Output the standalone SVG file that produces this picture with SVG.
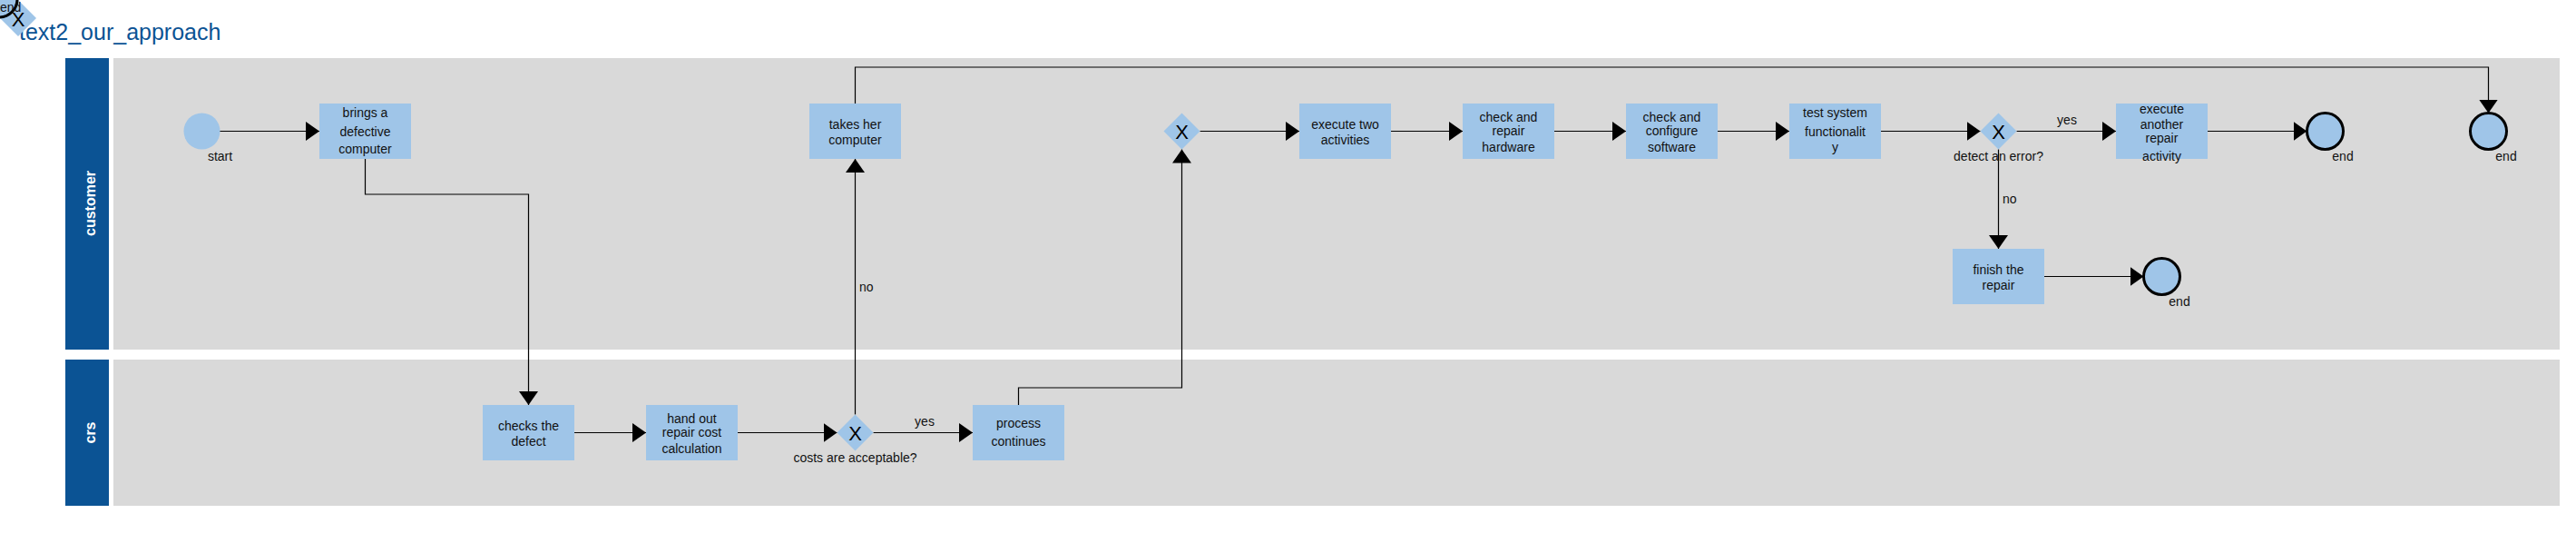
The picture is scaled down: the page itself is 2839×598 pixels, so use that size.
<svg xmlns="http://www.w3.org/2000/svg" width="2839" height="598" viewBox="0 0 2839 598">
<defs>
<style>
.lane{fill:#d9d9d9}
.hdr{fill:#0b5394}
.hdrt{fill:#ffffff;font-family:"Liberation Sans",Arial,sans-serif;font-size:16px;font-weight:bold}
.task{fill:#9fc5e8}
.t{font-family:"Liberation Sans",Arial,sans-serif;font-size:14px;fill:#111;text-anchor:middle}
.lbl{font-family:"Liberation Sans",Arial,sans-serif;font-size:14px;fill:#111}
.gw{fill:#9fc5e8}
.gx{font-family:"Liberation Sans",Arial,sans-serif;font-size:22px;fill:#000;text-anchor:middle}
.end{fill:#9fc5e8;stroke:#000;stroke-width:3}
.start{fill:#9fc5e8}
.e{fill:none;stroke:#000;stroke-width:1.2}
</style>
<marker id="arr" markerUnits="userSpaceOnUse" markerWidth="16" markerHeight="22" refX="15" refY="10.5" orient="auto">
<path d="M0,0 L15,10.5 L0,21 Z" fill="#000"/>
</marker>
</defs>
<rect width="2839" height="598" fill="#ffffff"/>
<text x="21" y="44" font-family="Liberation Sans, Arial, sans-serif" font-size="25" fill="#0b5394">text2_our_approach</text>
<g id="lane-customer">
<rect class="hdr" x="72" y="64" width="48" height="321"/>
<rect class="lane" x="125" y="64" width="2696" height="321"/>
<text class="hdrt" transform="translate(105,224) rotate(-90)" text-anchor="middle">customer</text>
</g>
<g id="lane-crs">
<rect class="hdr" x="72" y="396" width="48" height="161"/>
<rect class="lane" x="125" y="396" width="2696" height="161"/>
<text class="hdrt" transform="translate(105,476.5) rotate(-90)" text-anchor="middle">crs</text>
</g>
<g id="connectors">
<path class="e" marker-end="url(#arr)" d="M242,144.5 L352,144.5"/>
<path class="e" marker-end="url(#arr)" d="M402.5,175 L402.5,214 L582.5,214 L582.5,446"/>
<path class="e" marker-end="url(#arr)" d="M633,476.5 L712,476.5"/>
<path class="e" marker-end="url(#arr)" d="M813,476.5 L922.5,476.5"/>
<path class="e" marker-end="url(#arr)" d="M962.5,476.5 L1072,476.5"/>
<path class="e" marker-end="url(#arr)" d="M942.5,456.5 L942.5,175"/>
<path class="e" marker-end="url(#arr)" d="M942.5,114 L942.5,74 L2742.5,74 L2742.5,124.5"/>
<path class="e" marker-end="url(#arr)" d="M1122.5,446 L1122.5,427 L1302.5,427 L1302.5,164.5"/>
<path class="e" marker-end="url(#arr)" d="M1322.5,144.5 L1432,144.5"/>
<path class="e" marker-end="url(#arr)" d="M1533,144.5 L1612,144.5"/>
<path class="e" marker-end="url(#arr)" d="M1713,144.5 L1792,144.5"/>
<path class="e" marker-end="url(#arr)" d="M1893,144.5 L1972,144.5"/>
<path class="e" marker-end="url(#arr)" d="M2073,144.5 L2182.5,144.5"/>
<path class="e" marker-end="url(#arr)" d="M2222.5,144.5 L2332,144.5"/>
<path class="e" marker-end="url(#arr)" d="M2202.5,164.5 L2202.5,274"/>
<path class="e" marker-end="url(#arr)" d="M2433,144.5 L2542.5,144.5"/>
<path class="e" marker-end="url(#arr)" d="M2253,304.5 L2362.5,304.5"/>
<text class="lbl" x="1019" y="469" text-anchor="middle">yes</text>
<text class="lbl" x="947" y="321">no</text>
<text class="lbl" x="2278" y="137" text-anchor="middle">yes</text>
<text class="lbl" x="2207" y="224">no</text>
</g>
<g id="start">
<circle class="start" cx="222.5" cy="144.5" r="20"/>
<text class="lbl" x="242.5" y="177" text-anchor="middle">start</text>
</g>
<g id="task-brings">
<rect class="task" x="352" y="114" width="101" height="61"/>
<text class="t" x="402.5" y="128.5">brings a</text>
<text class="t" x="402.5" y="149.5">defective</text>
<text class="t" x="402.5" y="169">computer</text>
</g>
<g id="task-takes">
<rect class="task" x="892" y="114" width="101" height="61"/>
<text class="t" x="942.5" y="142.3">takes her</text>
<text class="t" x="942.5" y="159">computer</text>
</g>
<g id="task-exec-two">
<rect class="task" x="1432" y="114" width="101" height="61"/>
<text class="t" x="1482.5" y="142.3">execute two</text>
<text class="t" x="1482.5" y="159">activities</text>
</g>
<g id="task-hardware">
<rect class="task" x="1612" y="114" width="101" height="61"/>
<text class="t" x="1662.5" y="134">check and</text>
<text class="t" x="1662.5" y="149">repair</text>
<text class="t" x="1662.5" y="166.7">hardware</text>
</g>
<g id="task-software">
<rect class="task" x="1792" y="114" width="101" height="61"/>
<text class="t" x="1842.5" y="134">check and</text>
<text class="t" x="1842.5" y="149">configure</text>
<text class="t" x="1842.5" y="166.7">software</text>
</g>
<g id="task-test">
<rect class="task" x="1972" y="114" width="101" height="61"/>
<text class="t" x="2022.5" y="129.3">test system</text>
<text class="t" x="2022.5" y="150">functionalit</text>
<text class="t" x="2022.5" y="167">y</text>
</g>
<g id="task-exec-another">
<rect class="task" x="2332" y="114" width="101" height="61"/>
<text class="t" x="2382.5" y="125">execute</text>
<text class="t" x="2382.5" y="141.7">another</text>
<text class="t" x="2382.5" y="156.7">repair</text>
<text class="t" x="2382.5" y="177.3">activity</text>
</g>
<g id="task-finish">
<rect class="task" x="2152" y="274" width="101" height="61"/>
<text class="t" x="2202.5" y="302.3">finish the</text>
<text class="t" x="2202.5" y="319">repair</text>
</g>
<g id="task-checks">
<rect class="task" x="532" y="446" width="101" height="61"/>
<text class="t" x="582.5" y="474.3">checks the</text>
<text class="t" x="582.5" y="491">defect</text>
</g>
<g id="task-handout">
<rect class="task" x="712" y="446" width="101" height="61"/>
<text class="t" x="762.5" y="465.7">hand out</text>
<text class="t" x="762.5" y="481">repair cost</text>
<text class="t" x="762.5" y="499">calculation</text>
</g>
<g id="task-process">
<rect class="task" x="1072" y="446" width="101" height="61"/>
<text class="t" x="1122.5" y="471">process</text>
<text class="t" x="1122.5" y="491">continues</text>
</g>
<g id="gw-costs">
<path class="gw" d="M942.5,456.5 L962.5,476.5 L942.5,496.5 L922.5,476.5 Z"/>
<text class="gx" x="942.5" y="485">X</text>
<text class="lbl" x="942.5" y="508.5" text-anchor="middle">costs are acceptable?</text>
</g>
<g id="gw-merge">
<path class="gw" d="M1302.5,124.5 L1322.5,144.5 L1302.5,164.5 L1282.5,144.5 Z"/>
<text class="gx" x="1302.5" y="153">X</text>
</g>
<g id="gw-error">
<path class="gw" d="M2202.5,124.5 L2222.5,144.5 L2202.5,164.5 L2182.5,144.5 Z"/>
<text class="gx" x="2202.5" y="153">X</text>
<text class="lbl" x="2202.5" y="177" text-anchor="middle">detect an error?</text>
</g>
<g id="end-1">
<circle class="end" cx="2562.5" cy="144.5" r="20"/>
<text class="lbl" x="2582" y="177" text-anchor="middle">end</text>
</g>
<g id="end-2">
<circle class="end" cx="2742.5" cy="144.5" r="20"/>
<text class="lbl" x="2762" y="177" text-anchor="middle">end</text>
</g>
<g id="end-3">
<circle class="end" cx="2382.5" cy="304.5" r="20"/>
<text class="lbl" x="2402" y="337" text-anchor="middle">end</text>
</g>
<g id="gw-orphan">
<path class="gw" d="M20,0 L40,20 L20,40 L0,20 Z"/>
<text class="gx" x="20" y="29">X</text>
</g>
<g id="end-orphan">
<circle class="end" cx="-1" cy="-1" r="20"/>
<text class="lbl" x="0" y="13">end</text>
</g>
</svg>
